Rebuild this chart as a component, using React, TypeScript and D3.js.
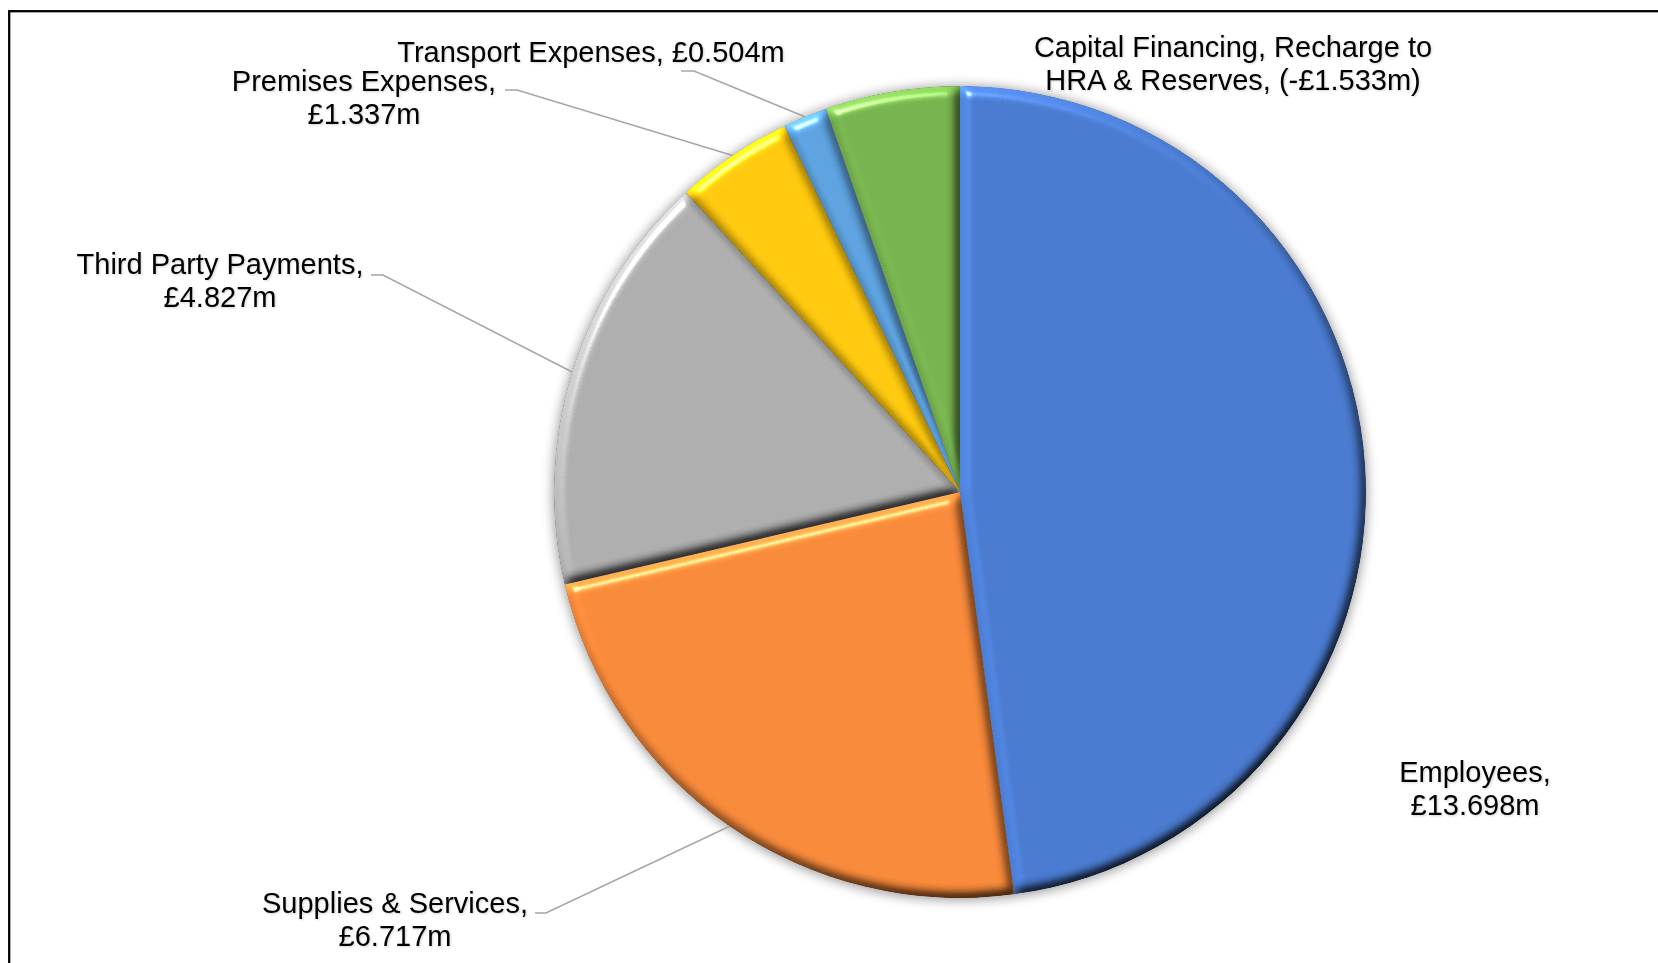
import React, { useEffect } from 'react';
import * as d3 from 'd3';

// Budget breakdown by expenditure type (£m)
const categories: string[] = [
  'Employees',
  'Supplies & Services',
  'Third Party Payments',
  'Premises Expenses',
  'Transport Expenses',
  'Capital Financing, Recharge to HRA & Reserves',
];
const values: number[] = [13.698, 6.717, 4.827, 1.337, 0.504, -1.533];
const sliceColors: string[] = ['#4A7BD0', '#F98A3B', '#AEAEAE', '#FFC90E', '#5EA3E0', '#77B34F'];

// Label placement: centre x, first baseline, words on the first line,
// and an optional leader line start (with a short horizontal run).
type LabelLayout = { x: number; y: number; firstLineWords: number; leader?: { x: number; y: number; run: number } };
const labelLayout: LabelLayout[] = [
  { x: 1475, y: 782, firstLineWords: 1 },
  { x: 395, y: 913, firstLineWords: 3, leader: { x: 535, y: 913, run: 11 } },
  { x: 220, y: 274, firstLineWords: 3, leader: { x: 371, y: 275, run: 12 } },
  { x: 364, y: 91, firstLineWords: 2, leader: { x: 505, y: 90, run: 12 } },
  { x: 591, y: 62, firstLineWords: 99, leader: { x: 681, y: 71, run: 13 } },
  { x: 1233, y: 57, firstLineWords: 4 },
];

const WIDTH = 1658;
const HEIGHT = 963;
const CX = 960;
const CY = 492;
const R = 406;
const LINE_HEIGHT = 33;
const FONT = '"Liberation Sans", Arial, sans-serif';

function formatAmount(v: number): string {
  return v < 0 ? `(-£${Math.abs(v).toFixed(3)}m)` : `£${v.toFixed(3)}m`;
}

function labelLines(i: number): string[] {
  const words = `${categories[i]}, ${formatAmount(values[i])}`.split(' ');
  const n = labelLayout[i].firstLineWords;
  const first = words.slice(0, n).join(' ');
  const rest = words.slice(n).join(' ');
  return rest ? [first, rest] : [first];
}

export default function App() {
  useEffect(() => {
    document.body.style.margin = '0';
    document.body.style.overflow = 'hidden';
  }, []);

  const pie = d3
    .pie<number>()
    .sort(null)
    .value((v) => Math.abs(v))
    .startAngle(0)
    .endAngle(2 * Math.PI);
  const arcs = pie(values);
  const arc = d3.arc<d3.PieArcDatum<number>>().innerRadius(0).outerRadius(R);
  const edgeArc = d3.arc<d3.PieArcDatum<number>>().innerRadius(R).outerRadius(R);

  return (
    <svg
      width={WIDTH}
      height={HEIGHT}
      style={{ position: 'absolute', left: 0, top: 0, display: 'block', background: '#fff' }}
    >
      <defs>
        <filter id="bevel" x="-10%" y="-10%" width="120%" height="120%" colorInterpolationFilters="sRGB">
          <feGaussianBlur in="SourceAlpha" stdDeviation="5.5" result="blur" />
          <feDiffuseLighting in="blur" surfaceScale="5.5" diffuseConstant="1" lightingColor="#ffffff" result="diff">
            <feDistantLight azimuth="235" elevation="50" />
          </feDiffuseLighting>
          <feComposite in="SourceGraphic" in2="diff" operator="arithmetic" k1="1.305" k2="0" k3="0" k4="0" result="lit" />
          <feSpecularLighting in="blur" surfaceScale="5.5" specularConstant="0.6" specularExponent="80" lightingColor="#ffffff" result="spec">
            <feDistantLight azimuth="235" elevation="50" />
          </feSpecularLighting>
          <feComposite in="spec" in2="SourceAlpha" operator="in" result="specIn" />
          <feComposite in="lit" in2="specIn" operator="arithmetic" k1="0" k2="1" k3="1" k4="0" result="sum" />
          <feComposite in="sum" in2="SourceAlpha" operator="in" />
        </filter>
        <filter id="pieShadow" x="-20%" y="-20%" width="140%" height="140%">
          <feGaussianBlur stdDeviation="6" />
        </filter>
        <filter id="textShadow" x="-5%" y="-20%" width="110%" height="150%">
          <feDropShadow dx="1" dy="1" stdDeviation="0.9" floodColor="#000" floodOpacity="0.18" />
        </filter>
      </defs>

      {/* chart frame */}
      <rect x={9.2} y={11.2} width={WIDTH + 40} height={HEIGHT + 40} fill="#fff" stroke="#000" strokeWidth={2.3} />

      {/* soft shadow under the pie */}
      <circle cx={CX} cy={CY + 1} r={R + 1} fill="#000" opacity={0.4} filter="url(#pieShadow)" />

      <g transform={`translate(${CX},${CY})`}>
        {arcs.map((d, i) => (
          <path key={categories[i]} d={arc(d) || ''} fill={sliceColors[i]} filter="url(#bevel)" />
        ))}
      </g>

      {/* leader lines */}
      <g fill="none" stroke="#A6A6A6" strokeWidth={1.6}>
        {arcs.map((d, i) => {
          const lead = labelLayout[i].leader;
          if (!lead) return null;
          const [ex, ey] = edgeArc.centroid(d);
          const pts: [number, number][] = [
            [lead.x, lead.y],
            [lead.x + lead.run, lead.y],
            [CX + ex, CY + ey],
          ];
          return <path key={categories[i]} d={d3.line()(pts) || ''} />;
        })}
      </g>

      {/* data labels */}
      <g fontFamily={FONT} fontSize={29} fill="#000" textAnchor="middle" filter="url(#textShadow)">
        {labelLayout.map((l, i) => (
          <text key={categories[i]} x={l.x} y={l.y}>
            {labelLines(i).map((line, j) => (
              <tspan key={j} x={l.x} y={l.y + j * LINE_HEIGHT}>
                {line}
              </tspan>
            ))}
          </text>
        ))}
      </g>
    </svg>
  );
}
